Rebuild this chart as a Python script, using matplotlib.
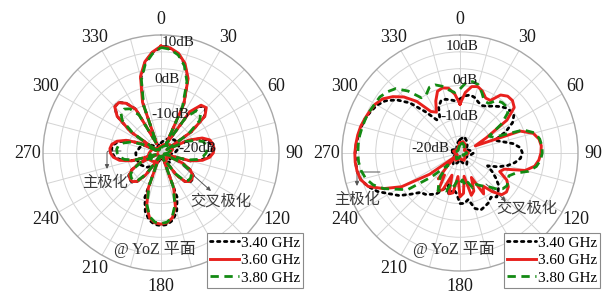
import numpy as np
import matplotlib
matplotlib.use("Agg")
import matplotlib.pyplot as plt
from matplotlib.lines import Line2D

W, H = 602, 300

# ---------------- data (dB) ----------------
theta_co = list(range(0, 360, 5))
theta_x = list(range(0, 360, 15))

# Left panel, co-polarisation
left_co_340 = [6.5, 6.1, 4.8, 2.3, -1.8, -9, -22, -10.5, -6.8, -6.3, -8.2, -14, -23, -16.5,
               -12.5, -10.5, -10, -9.8, -10, -11, -13, -16, -24, -18, -15, -13.3, -12.8,
               -12.8, -14, -17, -22, -24, -11, -7, -4.8, -3.7, -3.5, -3.7, -4.8, -7, -11,
               -24, -22, -17, -14, -12.8, -12.8, -13.3, -15, -18, -24, -16.5, -13, -11.2,
               -10.5, -10.3, -10.7, -12, -14.5, -18, -24, -14, -8, -5.6, -5.4, -7, -10,
               -22, -9.5, -2, 2.3, 4.8]
left_co_360 = [6.7, 6.3, 5.0, 2.5, -1.5, -9, -22, -10, -6.5, -6.0, -8, -14, -23, -16,
               -12, -10, -9.4, -9.2, -9.5, -10.5, -12.5, -16, -24, -18, -15, -13.5, -13,
               -13, -14, -17, -22, -24, -14, -8.5, -5.5, -4.2, -3.9, -4.2, -5.5, -8.5, -14,
               -24, -22, -17, -14, -13, -13, -13.5, -15, -18, -24, -16, -12.5, -10.8,
               -10, -9.8, -10.2, -11.5, -14, -18, -24, -14, -8, -5.6, -5.5, -7, -10,
               -22, -9, -1.5, 2.5, 5.0]
left_co_380 = [6.3, 5.9, 4.5, 1.8, -2.5, -10, -22, -12, -8.6, -8.4, -10, -15, -23, -17,
               -14, -12, -11.5, -11.3, -11.6, -12.5, -14, -17, -24, -18.5, -15.5, -14, -13.5,
               -13.5, -14.5, -17.5, -22, -24, -14.5, -9, -5.8, -4.4, -4.1, -4.4, -5.8, -9, -14.5,
               -24, -22, -17.5, -14.5, -13.5, -13.5, -14, -15.5, -18.5, -24, -17, -14, -12.5,
               -12, -11.8, -12.2, -13.5, -15.5, -19, -24, -15, -10, -8.2, -8, -9, -12,
               -22, -10, -2.5, 1.8, 4.5]

# Left panel, cross-polarisation
left_x_340 = [-22, -21, -20, -19.5, -19, -19.5, -21, -23, -22, -21, -22, -23,
              -24, -22, -20.5, -19, -18, -17.5, -17.5, -18.5, -20, -22, -23, -22.5]
left_x_360 = [-23, -22.5, -22, -21.5, -21, -21.5, -22.5, -23.5, -23, -22.5, -23, -23.5,
              -24, -23, -22, -21.5, -21, -21, -21.5, -22, -22.5, -23, -23.5, -23]
left_x_380 = [-23.5, -23, -22.5, -22, -21.5, -22, -23, -24, -23.5, -23, -23.5, -24,
              -24, -23.5, -22.5, -22, -21.5, -21.5, -22, -22.5, -23, -23.5, -24, -23.5]

# Right panel, co-polarisation
right_co_340 = [-9, -8, -7.5, -8, -9, -9.5, -9, -8, -7, -6, -5.5, -5.5, -7, -10,
                -14, -12, -9, -7, -6.5, -7, -8.5, -10.5, -13, -16, -14, -12, -10,
                -9, -8, -9, -8, -7.5, -7, -8, -11, -10, -10, -13, -14, -12, -15,
                -13, -11, -10, -9, -8.5, -6, -3, -0.8, 2, 4, 5.5, 6, 6.1, 6.1, 5.9,
                5.6, 5.3, 4.9, 4.2, 3.4, 2, -0.5, -4, -9, -13, -13, -10, -8.5, -8.5,
                -9, -9.5]
right_co_360 = [-10.5, -7, -5, -4.6, -5.5, -7, -7, -4, -3, -3, -4, -8, -16, -20,
                -6, -2.5, -1.2, -0.8, -1, -1.5, -2.5, -5, -11, -12, -9, -7.5, -7,
                -7.5, -10, -13, -11, -17, -13, -12, -18, -13, -12, -18, -13, -12.5, -18,
                -13, -12, -17, -15, -20, -24, -14, -5, 0, 4, 5.5, 6, 6.2, 6.2, 6,
                5.8, 5.5, 5, 4.5, 4, 3, 1, -1.5, -5, -10, -11, -8, -5.5, -5,
                -5.5, -7.5]
right_co_380 = [-6, -4, -3.5, -4, -6, -8, -8, -6, -5.5, -5.5, -6.5, -10, -15, -14,
                -5, -2, -1, -0.6, -0.6, -1, -2, -4, -7.5, -9, -8.5, -8, -8.5,
                -10, -12, -13, -14, -15, -14, -16, -15, -17, -16, -17, -15, -16, -13,
                -13, -12, -14, -16, -20, -14, -6, -3.5, 0, 2.5, 4, 4.8, 5.2, 5.3, 5.3,
                5.2, 5, 4.8, 4.5, 4.2, 4, 3.2, 2, -1, -5, -5, -3.5, -3.5, -4.5,
                -6, -7]

# Right panel, cross-polarisation
right_x_340 = [-21, -20, -21, -22, -23, -22, -21, -22, -23, -22, -21, -22,
               -23, -22, -21, -22, -23, -24, -23, -22, -23, -24, -23, -22]
right_x_360 = [-22, -21.5, -22, -23, -23.5, -23, -22.5, -23, -23.5, -23, -22.5, -23,
               -23.5, -23, -22.5, -23, -23.5, -24, -23.5, -23, -23.5, -24, -23.5, -23]
right_x_380 = [-22.5, -22, -22.5, -23.5, -24, -23.5, -23, -23.5, -24, -23.5, -23, -23.5,
               -24, -23.5, -23, -23.5, -24, -24, -24, -23.5, -24, -24, -24, -23.5]

series_labels = ["3.40 GHz", "3.60 GHz", "3.80 GHz"]
angle_labels = [str(a) for a in range(0, 360, 30)]
r_labels = ["10dB", "0dB", "-10dB", "-20dB"]
plane_text = "@ YoZ 平面"
co_text = "主极化"
cross_text = "交叉极化"

# ---------------- styles ----------------
SERIF = ["Liberation Serif", "DejaVu Serif"]
CJK = ["Noto Sans CJK SC", "DejaVu Sans"]
MIX = ["Liberation Serif", "Noto Sans CJK SC"]
styles = {
    "3.40 GHz": dict(color="black", lw=2.0, ls=(0, (0.9, 1.6)), dash_capstyle="round"),
    "3.60 GHz": dict(color="#e8211d", lw=2.1, ls="-"),
    "3.80 GHz": dict(color="#138a13", lw=2.0, ls=(0, (3.0, 2.0))),
}

fig = plt.figure(figsize=(W / 100, H / 100), dpi=100)


def fx(x):
    return x / W


def fy(y):
    return 1 - y / H


def closed(t, v):
    t = list(t) + [360]
    v = list(v) + [v[0]]
    return np.radians(t), np.array(v, dtype=float)


def make_ax(cx, cy, R):
    ax = fig.add_axes([fx(cx - R), fy(cy + R), 2 * R / W, 2 * R / H], projection="polar")
    ax.set_theta_zero_location("N")
    ax.set_theta_direction(-1)
    ax.set_rlim(-25, 10)
    ax.set_rticks([-20, -15, -10, -5, 0, 5])
    ax.set_yticklabels([])
    ax.set_xticks(np.radians(range(0, 360, 30)))
    ax.set_xticklabels(angle_labels, fontsize=13, family=SERIF, color="#1a1a1a")
    ax.set_xticks(np.radians(range(15, 360, 30)), minor=True)
    ax.tick_params(axis="x", pad=4, which="both", length=0)
    ax.grid(True, which="both", color="#d4d4d4", lw=0.7)
    ax.spines["polar"].set_color("#a8a8a8")
    ax.spines["polar"].set_linewidth(1.0)
    return ax


panels = [
    dict(cx=161, cy=153, R=118,
         co=[left_co_340, left_co_360, left_co_380],
         xp=[left_x_340, left_x_360, left_x_380],
         rlab=[(178, 42), (167, 80), (170, 115), (197, 148)],
         plane=(155, 249), leg=((207, 233), "upper left"),
         co_txt=(105, 182), co_arrow=((121, 151), (107, 169)),
         x_txt=(221, 201), x_arrow=((183, 166), (211, 191))),
    dict(cx=460, cy=153, R=118,
         co=[right_co_340, right_co_360, right_co_380],
         xp=[right_x_340, right_x_360, right_x_380],
         rlab=[(462, 46), (465, 81), (459, 116), (430, 149)],
         plane=(454, 249), leg=((600, 233), "upper right"),
         co_txt=(357, 199), co_arrow=((380, 172), (357, 186)),
         x_txt=(527, 208), x_arrow=((486, 184), (506, 201))),
]

for p in panels:
    ax = make_ax(p["cx"], p["cy"], p["R"])
    order = [1, 2, 0]
    for i in order:
        lab = series_labels[i]
        t, v = closed(theta_co, p["co"][i])
        ax.plot(t, v, **styles[lab], zorder=3 + i)
        t, v = closed(theta_x, p["xp"][i])
        ax.plot(t, v, **styles[lab], zorder=3 + i)
    for (x, y), s in zip(p["rlab"], r_labels):
        fig.text(fx(x), fy(y), s, ha="center", va="center", fontsize=11,
                 family=SERIF, color="#1a1a1a", zorder=10)
    fig.text(fx(p["plane"][0]), fy(p["plane"][1]), plane_text, ha="center", va="center",
             fontsize=11.5, family=MIX, color="#333333")
    fig.text(fx(p["co_txt"][0]), fy(p["co_txt"][1]), co_text, ha="center", va="center",
             fontsize=11, family=CJK, color="#3a3a3a")
    fig.text(fx(p["x_txt"][0]), fy(p["x_txt"][1]), cross_text, ha="center", va="center",
             fontsize=11, family=CJK, color="#3a3a3a")
    (sx, sy), (ex, ey) = p["co_arrow"]
    ax.annotate("", xy=(fx(ex), fy(ey)), xytext=(fx(sx), fy(sy)),
                xycoords="figure fraction", textcoords="figure fraction",
                arrowprops=dict(arrowstyle="-|>", color="#555555", lw=0.7,
                                mutation_scale=6, shrinkA=0, shrinkB=0,
                                connectionstyle="angle,angleA=0,angleB=90,rad=2"))
    (sx, sy), (ex, ey) = p["x_arrow"]
    ax.annotate("", xy=(fx(ex), fy(ey)), xytext=(fx(sx), fy(sy)),
                xycoords="figure fraction", textcoords="figure fraction",
                arrowprops=dict(arrowstyle="-|>", color="#555555", lw=0.7,
                                mutation_scale=6, shrinkA=0, shrinkB=0))
    handles = [Line2D([], [], **styles[s]) for s in series_labels]
    (lx, ly), loc = p["leg"]
    leg = fig.legend(handles, series_labels, loc=loc,
                     bbox_to_anchor=(fx(lx), fy(ly)),
                     prop=dict(family=SERIF, size=11), frameon=True, fancybox=False,
                     framealpha=1, edgecolor="#8a8a8a", borderpad=0.2,
                     handlelength=1.9, handletextpad=0.1, labelspacing=0.25,
                     borderaxespad=0)
    leg.get_frame().set_linewidth(0.8)
    leg.set_zorder(20)

fig.savefig("out.png", dpi=100)
